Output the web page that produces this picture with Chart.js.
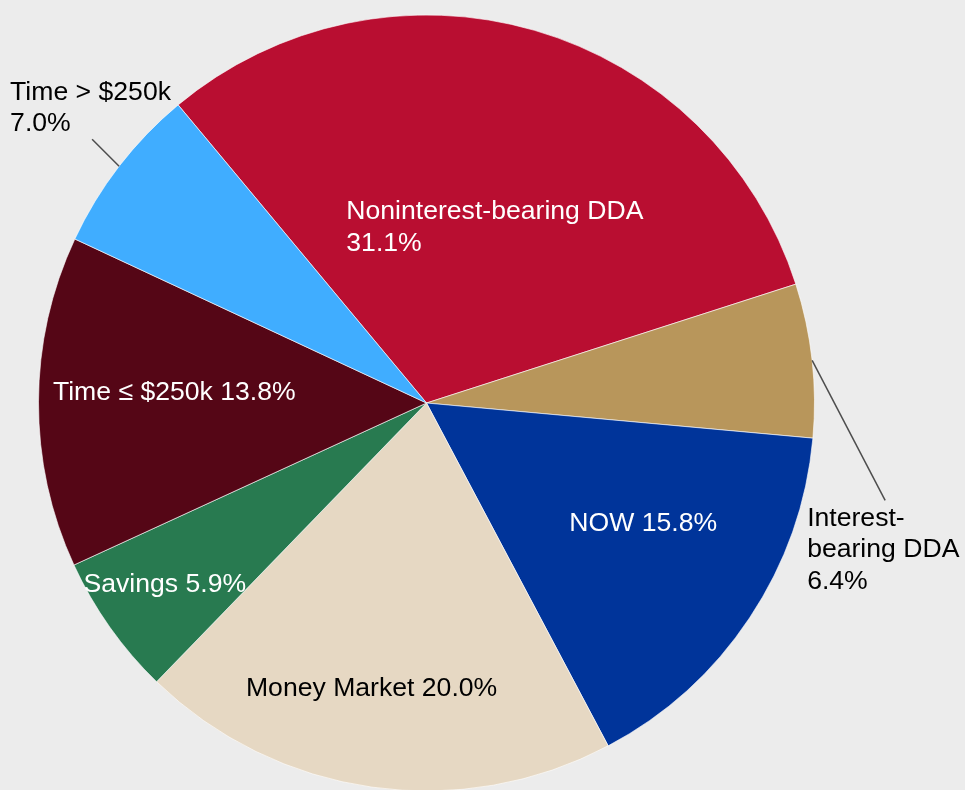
<!DOCTYPE html>
<html>
<head>
<meta charset="utf-8">
<title>Deposit mix</title>
<script src="https://cdn.jsdelivr.net/npm/chart.js@4/dist/chart.umd.min.js"></script>
<style>
    html, body { margin: 0; padding: 0; background: #ececec; overflow: hidden; }
    #wrap { width: 965px; height: 800px; }
</style>
</head>
<body>
<div id="wrap"><canvas id="depositChart" width="965" height="800"></canvas></div>
<script>
// Chart data
const categories = [
    'Noninterest-bearing DDA',
    'Interest-bearing DDA',
    'NOW',
    'Money Market',
    'Savings',
    'Time ≤ $250k',
    'Time > $250k'
];
const shares = [31.1, 6.4, 15.8, 20.0, 5.9, 13.8, 7.0];
const sliceColors = ['#b90e31', '#b8965b', '#00349a', '#e6d8c3', '#287a50', '#550616', '#40adff'];

// Label placement per slice (frac = fraction of radius along the slice middle)
const labelLayout = [
    { frac: 0.47, dx: -131, dy: 0, align: 'left', color: '#ffffff', lines: 'two' },
    { outside: true, lineDx: 73, lineDy: 140, tx: -78, ty: 18, color: '#000000', lines: ['Interest-', 'bearing DDA'] },
    { frac: 0.64, dx: 10, dy: -17, align: 'center', color: '#ffffff', lines: 'one' },
    { frac: 0.75, dx: -14, dy: -2, align: 'center', color: '#000000', lines: 'one' },
    { frac: 0.82, dx: -2, dy: -2, align: 'center', color: '#ffffff', lines: 'one' },
    { frac: 0.65, dx: 0, dy: -10, align: 'center', color: '#ffffff', lines: 'one' },
    { outside: true, lineDx: -27, lineDy: -27, tx: -82, ty: -47, color: '#000000', lines: 'two' }
];

const FONT = '26.6px "Liberation Sans", Arial, sans-serif';
const LINE_H = 31.5;

// Draws slice labels and leader lines
const sliceLabels = {
    id: 'sliceLabels',
    afterDatasetsDraw(chart) {
        const ctx = chart.ctx;
        const arcs = chart.getDatasetMeta(0).data;
        ctx.save();
        ctx.font = FONT;
        ctx.textBaseline = 'middle';
        arcs.forEach((arc, i) => {
            const cfg = labelLayout[i];
            const pct = shares[i].toFixed(1) + '%';
            let lines;
            if (cfg.lines === 'one') lines = [categories[i] + ' ' + pct];
            else if (cfg.lines === 'two') lines = [categories[i], pct];
            else lines = cfg.lines.concat([pct]);

            const mid = (arc.startAngle + arc.endAngle) / 2;
            ctx.fillStyle = cfg.color;

            if (cfg.outside) {
                const sx = arc.x + Math.cos(mid) * arc.outerRadius;
                const sy = arc.y + Math.sin(mid) * arc.outerRadius;
                const ex = sx + cfg.lineDx;
                const ey = sy + cfg.lineDy;
                ctx.strokeStyle = '#4d4d4d';
                ctx.lineWidth = 1.5;
                ctx.beginPath();
                ctx.moveTo(sx, sy);
                ctx.lineTo(ex, ey);
                ctx.stroke();
                ctx.textAlign = 'left';
                lines.forEach((txt, k) => {
                    ctx.fillText(txt, ex + cfg.tx, ey + cfg.ty + k * LINE_H);
                });
            } else {
                const r = arc.outerRadius * cfg.frac;
                const px = arc.x + Math.cos(mid) * r + cfg.dx;
                const py = arc.y + Math.sin(mid) * r + cfg.dy;
                ctx.textAlign = cfg.align;
                const top = py - (lines.length - 1) * LINE_H / 2;
                lines.forEach((txt, k) => {
                    ctx.fillText(txt, px, top + k * LINE_H);
                });
            }
        });
        ctx.restore();
    }
};

const ctx = document.getElementById('depositChart').getContext('2d');

new Chart(ctx, {
    type: 'pie',
    data: {
        labels: categories,
        datasets: [{
            data: shares,
            backgroundColor: sliceColors,
            borderColor: 'rgba(255, 255, 255, 0.6)',
            borderWidth: 1
        }]
    },
    options: {
        responsive: false,
        animation: false,
        rotation: -39.8,
        layout: {
            padding: { left: 38, top: 14.5, right: 150, bottom: 8.5 }
        },
        plugins: {
            legend: { display: false },
            tooltip: { enabled: false }
        }
    },
    plugins: [sliceLabels]
});
</script>
</body>
</html>
